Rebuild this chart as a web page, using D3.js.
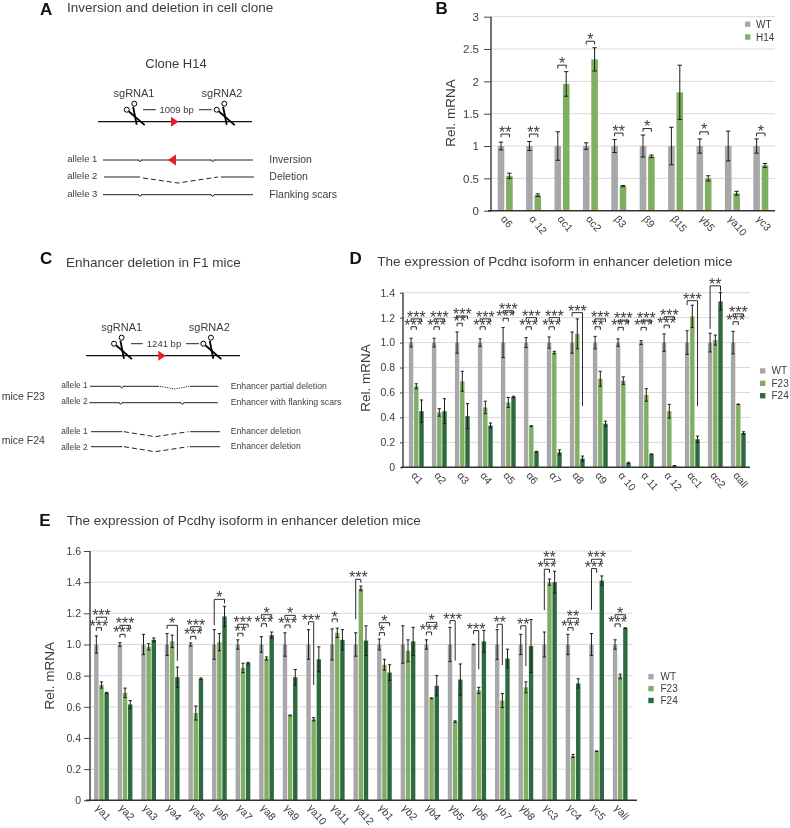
<!DOCTYPE html>
<html><head><meta charset="utf-8">
<script src="https://cdn.jsdelivr.net/npm/d3@7"></script>
<style>html,body{margin:0;padding:0;background:#fff}svg{display:block;filter:blur(0.35px)}text{font-family:"Liberation Sans",Arial,sans-serif;fill:#3c3c3c}</style>
</head><body><svg id="fig" width="790" height="828"></svg>
<script>
// ---------- data: panel B ----------
const catB=["α6","α 12","αc1","αc2","β3","β9","β15","γb5","γa10","γc3"];
const wtB=[1,1,1,1,1,1,1,1,1,1];
const wtErrB=[.06,.07,.22,.05,.1,.17,.29,.11,.23,.11];
const h14B=[.54,.24,1.96,2.34,.38,.84,1.83,.5,.27,.7];
const h14ErrB=[.04,.02,.19,.18,.01,.02,.42,.04,.03,.03];
const seriesNamesB=["WT","H14"];
const ticksB=[0,.5,1,1.5,2,2.5,3];
const tickLabelsB=["0","0.5","1","1.5","2","2.5","3"];
// [category, series reached, bracket top, left foot, right foot, stars]
const sigB=[[0,1,1.185,null,null,"**"],[1,1,1.185,null,null,"**"],[2,1,2.25,null,null,"*"],[3,1,2.62,null,null,"*"],[4,1,1.2,null,null,"**"],[5,1,1.27,null,null,"*"],[7,1,1.22,null,null,"*"],[9,1,1.2,null,null,"*"]];
// ---------- data: panel D ----------
const catD=["α1","α2","α3","α4","α5","α6","α7","α8","α9","α 10","α 11","α 12","αc1","αc2","αall"];
const wtD=[1,1,1,1,1,1,1,1,1,1,1,1,1,1,1];
const wtErrD=[.035,.035,.085,.03,.12,.04,.045,.085,.05,.03,.015,.07,.095,.075,.09];
const f23D=[.65,.44,.69,.48,.52,.33,.92,1.07,.71,.695,.58,.45,1.21,1.02,.505];
const f23ErrD=[.02,.03,.08,.05,.04,.003,.01,.12,.06,.03,.05,.055,.09,.04,.002];
const f24D=[.45,.45,.41,.335,.565,.125,.12,.07,.35,.035,.105,.012,.225,1.33,.275];
const f24ErrD=[.09,.1,.1,.02,.005,.003,.02,.02,.02,.005,.002,.002,.025,.07,.01];
const seriesNamesD=["WT","F23","F24"];
const ticksD=[0,.2,.4,.6,.8,1,1.2,1.4];
const tickLabelsD=["0","0.2","0.4","0.6","0.8","1.0","1.2","1.4"];
const sigD=[[0,2,1.19,null,null,"***"],[0,1,1.127,null,null,"***"],[1,2,1.19,null,null,"***"],[1,1,1.127,null,null,"***"],
[2,2,1.213,null,null,"***"],[2,1,1.155,null,null,"**"],[3,2,1.19,null,null,"***"],[3,1,1.127,null,null,"***"],
[4,2,1.255,null,null,"***"],[4,1,1.195,null,null,"***"],[5,2,1.2,null,null,"***"],[5,1,1.127,null,null,"***"],
[6,2,1.2,null,null,"***"],[6,1,1.127,null,null,"***"],[7,2,1.24,1.21,.49,"***"],[8,2,1.19,null,null,"***"],[8,1,1.127,null,null,"**"],
[9,2,1.18,null,null,"***"],[9,1,1.122,null,null,"***"],[10,2,1.18,null,null,"***"],[10,1,1.122,null,null,"***"],
[11,2,1.207,null,null,"***"],[11,1,1.14,null,null,"***"],[12,2,1.336,1.3,.49,"***"],[13,2,1.455,1.11,1.41,"**"],
[14,2,1.23,null,null,"***"],[14,1,1.167,null,null,"***"]];
// ---------- data: panel E ----------
const catE=["γa1","γa2","γa3","γa4","γa5","γa6","γa7","γa8","γa9","γa10","γa11","γa12","γb1","γb2","γb4","γb5","γb6","γb7","γb8","γc3","γc4","γc5","γall"];
const wtE=[1,1,1,1,1,1,1,1,1,1,1,1,1,1,1,1,1,1,1,1,1,1,1];
const wtErrE=[.055,.012,.065,.07,.01,.095,.03,.05,.075,.095,.1,.075,.035,.12,.03,.11,.002,.095,.065,.08,.065,.07,.03];
const f23E=[.74,.69,.985,1.02,.56,1.015,.85,.91,.545,.52,1.075,1.36,.87,.96,.655,.505,.705,.64,.725,1.4,.285,.315,.795];
const f23ErrE=[.02,.03,.02,.04,.045,.055,.03,.01,.002,.01,.03,.015,.035,.07,.002,.005,.02,.045,.035,.02,.01,.002,.015];
const f24E=[.69,.615,1.03,.79,.78,1.18,.88,1.06,.79,.905,1.03,1.025,.82,1.02,.735,.775,1.02,.91,.99,1.4,.75,1.41,1.105];
const f24ErrE=[.003,.025,.012,.065,.005,.065,.005,.02,.05,.08,.065,.095,.05,.09,.065,.1,.07,.06,.17,.07,.03,.03,.002];
const seriesNamesE=["WT","F23","F24"];
const ticksE=[0,.2,.4,.6,.8,1,1.2,1.4,1.6];
const tickLabelsE=["0","0.2","0.4","0.6","0.8","1.0","1.2","1.4","1.6"];
const sigE=[[0,2,1.175,null,null,"***"],[0,1,1.108,null,null,"***"],[1,2,1.123,null,null,"***"],[1,1,1.065,null,null,"***"],
[3,2,1.123,1.1,.895,"*"],[4,2,1.114,null,null,"***"],[4,1,1.052,null,null,"***"],[5,2,1.29,1.125,1.264,"*"],
[6,2,1.13,null,null,"***"],[6,1,1.072,null,null,"**"],[7,2,1.191,null,null,"*"],[7,1,1.133,null,null,"***"],
[8,2,1.187,null,null,"*"],[8,1,1.125,null,null,"***"],[9,1,1.146,1.125,.74,"***"],[10,1,1.164,null,null,"*"],
[11,1,1.418,1.162,1.397,"***"],[12,2,1.14,null,null,"*"],[12,1,1.076,null,null,"*"],[14,2,1.142,null,null,"*"],[14,1,1.08,null,null,"***"],
[15,1,1.153,1.13,.896,"***"],[16,1,1.089,1.065,.84,"***"],[17,1,1.13,1.105,.868,"**"],[18,1,1.12,1.095,.862,"**"],
[19,2,1.547,null,null,"**"],[19,1,1.483,1.221,1.46,"***"],[20,2,1.168,null,null,"**"],[20,1,1.108,null,null,"***"],
[21,2,1.547,null,null,"***"],[21,1,1.487,1.221,1.46,"***"],[22,2,1.191,null,null,"*"],[22,1,1.132,null,null,"***"]];
// ---------- text of the schematics ----------
const allelesA=["allele 1","allele 2","allele 3"];
const outcomesA=["Inversion","Deletion","Flanking scars"];
const allelesC=["allele 1","allele 2","allele 1","allele 2"];
const outcomesC=["Enhancer partial deletion","Enhancer with flanking scars","Enhancer deletion","Enhancer deletion"];
const miceC=["mice F23","mice F24"];

const colors={WT:"#a8a8ab",H14:"#80ae62",F23:"#80ae62",F24:"#2e6a3f"};
const svg=d3.select("#fig");
function txt(x,y,s,size,o={}){const t=svg.append("text").attr("x",x).attr("y",y).attr("font-size",size).text(s);
  if(o.anchor)t.attr("text-anchor",o.anchor);if(o.weight){t.attr("font-weight",o.weight).style("fill","#111");}if(o.rot!=null)t.attr("transform",`rotate(${o.rot} ${x} ${y})`);return t;}

function chart(c){
  const x=d3.scaleBand().domain(c.cats).range(c.xr);
  const y=d3.scaleLinear().domain(c.ydom).range(c.yr);
  const sub=d3.scaleBand().domain(c.series.map(s=>s.name)).range([-c.step*c.series.length/2,c.step*c.series.length/2]);
  const cx=(i,s)=>x(c.cats[i])+x.bandwidth()/2+sub(c.series[s].name)+sub.bandwidth()/2;
  const g=svg.append("g");
  g.selectAll("line.grid").data(c.ticks.slice(1)).join("line").attr("x1",c.axisX).attr("x2",c.gridEnd).attr("y1",y).attr("y2",y).attr("stroke","#d9d9d9").attr("stroke-width",1);
  c.series.forEach((s,si)=>{
    g.selectAll(null).data(s.values).join("rect").attr("x",(d,i)=>cx(i,si)-c.barW/2).attr("width",c.barW).attr("y",d=>y(d)).attr("height",d=>y(0)-y(d)).attr("fill",colors[s.name]);
  });
  c.series.forEach((s,si)=>{
    s.values.forEach((v,i)=>{
      const e=s.err[i],X=cx(i,si),p=d3.path();
      p.moveTo(X,y(v+e));p.lineTo(X,y(v-e));p.moveTo(X-c.cap,y(v+e));p.lineTo(X+c.cap,y(v+e));p.moveTo(X-c.cap,y(v-e));p.lineTo(X+c.cap,y(v-e));
      g.append("path").attr("d",p.toString()).attr("stroke","#1c1c1c").attr("stroke-width",1).attr("fill","none");
    });
  });
  const ax=d3.axisLeft(y).tickValues(c.ticks).tickFormat((d,i)=>c.tickLabels[i]).tickSize(c.tick).tickPadding(c.pad);
  const ag=g.append("g").attr("transform",`translate(${c.axisX},0)`).call(ax);
  ag.selectAll("path.domain").attr("stroke","#444").attr("stroke-width",1.5).attr("d",`M0,${y(0)}V${y(c.ydom[1])}`);
  ag.selectAll(".tick line").attr("stroke","#444").attr("stroke-width",1);
  ag.selectAll("text").attr("font-size",c.tickFont).style("font-family",'"Liberation Sans"').style("fill","#3c3c3c");
  g.append("line").attr("x1",c.baseStart).attr("x2",c.baseEnd).attr("y1",y(0)).attr("y2",y(0)).attr("stroke","#333").attr("stroke-width",1.5);
  c.cats.forEach((d,i)=>{
    const X=x(d)+x.bandwidth()/2+c.labDx,Y=y(0)+c.labDy;
    g.append("g").attr("transform",`translate(${X},${Y}) rotate(${c.labRot})`)
      .append("text").attr("x",0).attr("y",3.2).attr("font-size",c.labFont).text(d);
  });
  c.sig.forEach(([i,s,top,lf,rf,st])=>{
    const a=cx(i,0),b=cx(i,s),T=y(top),L=lf==null?T+3.2:y(lf),R=rf==null?T+3.2:y(rf);
    const p=d3.path();p.moveTo(a,L);p.lineTo(a,T);p.lineTo(b,T);p.lineTo(b,R);
    g.append("path").attr("d",p.toString()).attr("fill","none").attr("stroke","#2a2a2a").attr("stroke-width",1);
    g.append("text").attr("x",(a+b)/2).attr("y",T+c.starDy).attr("text-anchor","middle").attr("font-size",c.starFont).text(st);
  });
  c.series.forEach((s,si)=>{
    const ly=c.leg.y+si*c.leg.dy;
    g.append("rect").attr("x",c.leg.x).attr("y",ly).attr("width",5.4).attr("height",5.4).attr("fill",colors[s.name]);
    g.append("text").attr("x",c.leg.tx).attr("y",ly+6.2).attr("font-size",10).text(s.name);
  });
}
chart({cats:catB,series:[{name:seriesNamesB[0],values:wtB,err:wtErrB},{name:seriesNamesB[1],values:h14B,err:h14ErrB}],
 xr:[491,775],ydom:[0,3],yr:[210.7,16.7],step:8.4,barW:6.6,cap:2.2,axisX:491,gridEnd:775,baseStart:488,baseEnd:775,tick:7,pad:5,tickFont:11.5,
 ticks:ticksB,tickLabels:tickLabelsB,labDx:-2.5,labDy:6.5,labFont:10.5,labRot:50,sig:sigB,starDy:3.5,starFont:16,leg:{x:745,y:21.5,dy:12.8,tx:756}});
chart({cats:catD,series:[{name:seriesNamesD[0],values:wtD,err:wtErrD},{name:seriesNamesD[1],values:f23D,err:f23ErrD},{name:seriesNamesD[2],values:f24D,err:f24ErrD}],
 xr:[404.8,749.8],ydom:[0,1.4],yr:[467.3,292.7],step:5.2,barW:4.4,cap:1.6,axisX:403,gridEnd:750,baseStart:401,baseEnd:750,tick:3,pad:5,tickFont:10.5,
 ticks:ticksD,tickLabels:tickLabelsD,labDx:-3.2,labDy:6.5,labFont:10.5,labRot:50,sig:sigD,starDy:4,starFont:16,leg:{x:760,y:368.2,dy:12.4,tx:771.5}});
chart({cats:catE,series:[{name:seriesNamesE[0],values:wtE,err:wtErrE},{name:seriesNamesE[1],values:f23E,err:f23ErrE},{name:seriesNamesE[2],values:f24E,err:f24ErrE}],
 xr:[89.7,632],ydom:[0,1.6],yr:[800.3,551],step:5.15,barW:4.4,cap:1.6,axisX:90,gridEnd:632,baseStart:86,baseEnd:637,tick:6,pad:3,tickFont:10.5,
 ticks:ticksE,tickLabels:tickLabelsE,labDx:-4,labDy:6,labFont:10.5,labRot:50,sig:sigE,starDy:4,starFont:16,leg:{x:648.3,y:674,dy:11.9,tx:660.5}});

// axis titles
txt(450,113,"Rel. mRNA",13.5,{anchor:"middle",rot:-90}).attr("dy",".35em");
txt(365,378,"Rel. mRNA",13.5,{anchor:"middle",rot:-90}).attr("dy",".35em");
txt(49,675.7,"Rel. mRNA",13.5,{anchor:"middle",rot:-90}).attr("dy",".35em");
// panel letters and titles
[["A",40,15],["B",435.5,13.5],["C",40,264],["D",349.5,264],["E",39.3,525.7]].forEach(([s,a,b])=>txt(a,b,s,17,{weight:"bold"}));
txt(67,12,"Inversion and deletion in cell clone",13.5);
txt(66,266.7,"Enhancer deletion in F1 mice",13.5);
txt(377.3,265.7,"The expression of Pcdhα isoform in enhancer deletion mice",13.5);
txt(66.7,525.3,"The expression of Pcdhγ isoform in enhancer deletion mice",13.5);

// schematics
const ln=d3.line();
function seg(pts,o={}){return svg.append("path").attr("d",ln(pts)).attr("fill","none").attr("stroke",o.c||"#222").attr("stroke-width",o.w||1).attr("stroke-dasharray",o.dash||null);}
function scissors(x,y){
  seg([[x,y+3],[x-3.6,y-15]],{c:"#000",w:1.8});
  seg([[x-8,y-10.5],[x+8,y+3.4]],{c:"#000",w:1.8});
  svg.append("circle").attr("cx",x-2.4).attr("cy",y-18).attr("r",2.5).attr("fill","#fff").attr("stroke","#000").attr("stroke-width",1);
  svg.append("circle").attr("cx",x-10).attr("cy",y-12).attr("r",2.5).attr("fill","#fff").attr("stroke","#000").attr("stroke-width",1);
}
function tri(x0,x1,yc,h){svg.append("path").attr("d",ln([[x0,yc-h],[x1,yc],[x0,yc+h]])+"Z").attr("fill","#e5202e");}
function scar(x,y){svg.append("line").attr("x1",x-1.2).attr("x2",x+1.2).attr("y1",y).attr("y2",y).attr("stroke","#fff").attr("stroke-width",1.4);seg([[x-2,y],[x,y+1.6],[x+2,y]],{w:1,c:"#222"});}
function site(lineY,x0,x1,triX,s1,s2,lx1,lx2,bpX,bpLabel,d1,d2){
  seg([[x0,lineY],[x1,lineY]],{c:"#111",w:1.2});
  tri(triX,triX+7.5,lineY,5);
  scissors(s1,lineY);scissors(s2,lineY);
  txt(lx1,lineY-25,"sgRNA1",11,{anchor:"middle"});txt(lx2,lineY-25,"sgRNA2",11,{anchor:"middle"});
  txt(bpX,lineY-8.8,bpLabel,9.5,{anchor:"middle"});
  seg([[d1[0],lineY-12],[d1[1],lineY-12]],{c:"#222"});seg([[d2[0],lineY-12],[d2[1],lineY-12]],{c:"#222"});
}
txt(176,68,"Clone H14",13,{anchor:"middle"});
site(121.7,98,252,171,136.7,226.7,134,222,176.7,"1009 bp",[143,155.7],[199,211.7]);
const yA=[160,177,194.7];
allelesA.forEach((s,i)=>txt(67.3,yA[i]+2,s,9.5));
outcomesA.forEach((s,i)=>txt(269.3,yA[i]+3,s,10.5));
seg([[103,160],[253,160]]);scar(140,160);scar(212.7,160);
svg.append("path").attr("d",ln([[176,154.5],[168,160],[176,165.5]])+"Z").attr("fill","#e5202e");
seg([[104,177],[140,177]]);seg([[143,178],[178,183],[218,177]],{dash:"5 3"});seg([[220.7,177],[254,177]]);
seg([[103,194.7],[253,194.7]]);scar(140,194.7);scar(212.7,194.7);

site(355.7,86,240,158.3,124,213.3,121.7,209.3,164,"1241 bp",[131,142.7],[186,199]);
const labY=[388.3,404.3,434.3,449.7],outY=[389,405,434.3,449.3];
allelesC.forEach((s,i)=>txt(61.3,labY[i],s,8.3));
outcomesC.forEach((s,i)=>txt(230.7,outY[i],s,8.7));
miceC.forEach((s,i)=>txt(1.7,[400,444][i],s,10.5));
seg([[90,386.3],[159,386.3]]);scar(121.7,386.3);seg([[160,386.3],[175,389],[189,386.3]],{dash:"1.2 1.2"});seg([[190,386.3],[218.3,386.3]]);
seg([[89.3,402.7],[217.7,402.7]]);scar(120.7,402.7);scar(182.3,402.7);
[431.7,446.7].forEach(Y=>{seg([[91,Y],[122.3,Y]]);seg([[124,Y],[155,Y+5],[188.3,Y]],{dash:"5 3"});seg([[190,Y],[220,Y]]);});
</script></body></html>
